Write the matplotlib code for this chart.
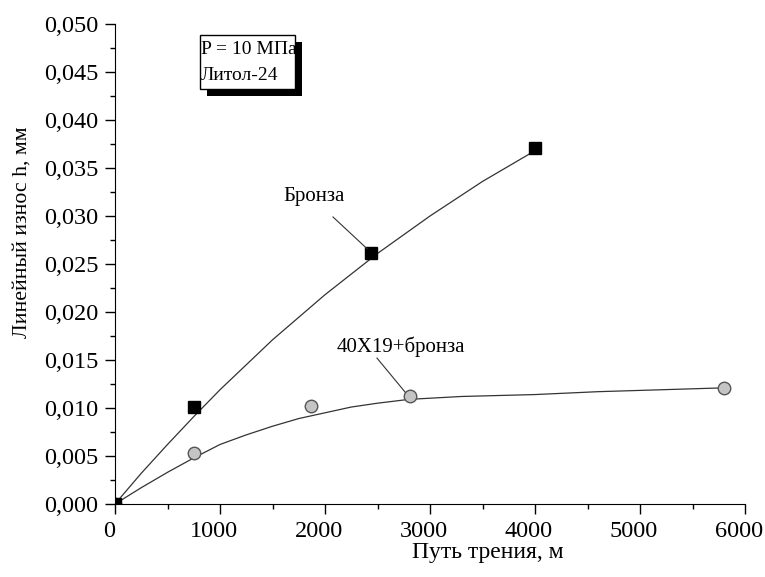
import numpy as np
import matplotlib
matplotlib.use("Agg")
import matplotlib.pyplot as plt
from matplotlib.ticker import MultipleLocator, FuncFormatter
from matplotlib.patches import Rectangle
from matplotlib.transforms import ScaledTranslation

plt.rcParams['font.family'] = ['Liberation Serif', 'DejaVu Serif']

# measured points
bronze_x = [0, 750, 2440, 4000]
bronze_y = [0.0, 0.0101, 0.0261, 0.0371]
steel_x = [0, 750, 1870, 2810, 5800]
steel_y = [0.0, 0.0053, 0.0102, 0.0112, 0.0121]

# smoothing curves
bronze_curve_x = [0, 250, 500, 750, 1000, 1500, 2000, 2500, 3000, 3500, 4000]
bronze_curve_y = [0.0, 0.0032, 0.0062, 0.0091, 0.0119, 0.0171, 0.0218, 0.0261, 0.0300, 0.0336, 0.0368]
steel_curve_x = [0, 250, 500, 750, 1000, 1250, 1500, 1750, 2000, 2250, 2500, 2800, 3300, 4000, 4600, 5200, 5800]
steel_curve_y = [0.0, 0.0017, 0.0033, 0.0048, 0.0062, 0.0072, 0.0081, 0.0089, 0.0095, 0.0101, 0.0105, 0.0109,
                 0.0112, 0.0114, 0.0117, 0.0119, 0.0121]

fig = plt.figure(figsize=(7.65, 5.77), dpi=100)
ax = fig.add_axes([115/765, 1-504/577, 630/765, 480/577])

ax.plot(bronze_curve_x, bronze_curve_y, color='#333333', lw=0.9)
ax.plot(steel_curve_x, steel_curve_y, color='#333333', lw=0.9)
ax.plot(steel_x, steel_y, 'o', mfc='#c4c4c4', mec='#555555', mew=1.0, ms=9)
ax.plot(bronze_x, bronze_y, 's', color='black', ms=9)

ax.set_xlim(0, 6000)
ax.set_ylim(0, 0.050)
ax.spines['top'].set_visible(False)
ax.spines['right'].set_visible(False)
ax.xaxis.set_major_locator(MultipleLocator(1000))
ax.xaxis.set_minor_locator(MultipleLocator(500))
ax.yaxis.set_major_locator(MultipleLocator(0.005))
ax.yaxis.set_minor_locator(MultipleLocator(0.0025))
ax.yaxis.set_major_formatter(FuncFormatter(lambda v, p: f"{v:.3f}".replace('.', ',')))
ax.tick_params(which='major', length=7, width=1, direction='out', labelsize=17.5, pad=5)
ax.tick_params(which='minor', length=3.6, width=1, direction='out')
# x tick labels sit a little left of their ticks in the original
shift = ScaledTranslation(-6/100, 0, fig.dpi_scale_trans)
for lab in ax.get_xticklabels():
    lab.set_transform(lab.get_transform() + shift)

ax.set_xlabel('Путь трения, м', fontsize=17, va='baseline')
ax.xaxis.set_label_coords(0.592, -0.112)
ax.set_ylabel('Линейный износ h, мм', fontsize=15.7)
ax.yaxis.set_label_coords(-0.133, 0.567)

ax.text(1600, 0.0320, 'Бронза', fontsize=15, va='center', ha='left')
ax.plot([2076, 2400], [0.0299, 0.0266], color='#333333', lw=0.8)
ax.text(2114, 0.01635, '40Х19+бронза', fontsize=15, va='center', ha='left')
ax.plot([2495, 2762], [0.0152, 0.01167], color='#333333', lw=0.8)

# boxed note with shadow
W, H = 765, 577
fig.patches.append(Rectangle((207/W, 1-96/H), 95/W, 54/H, transform=fig.transFigure,
                             facecolor='black', edgecolor='none', zorder=5))
fig.patches.append(Rectangle((200/W, 1-89/H), 95/W, 54/H, transform=fig.transFigure,
                             facecolor='white', edgecolor='black', lw=1, zorder=6))
fig.text(201/W, 1-49/H, 'P = 10 МПа', fontsize=14, va='center', ha='left', zorder=7)
fig.text(201/W, 1-75/H, 'Литол-24', fontsize=14, va='center', ha='left', zorder=7)

fig.savefig('out.png', dpi=100)
